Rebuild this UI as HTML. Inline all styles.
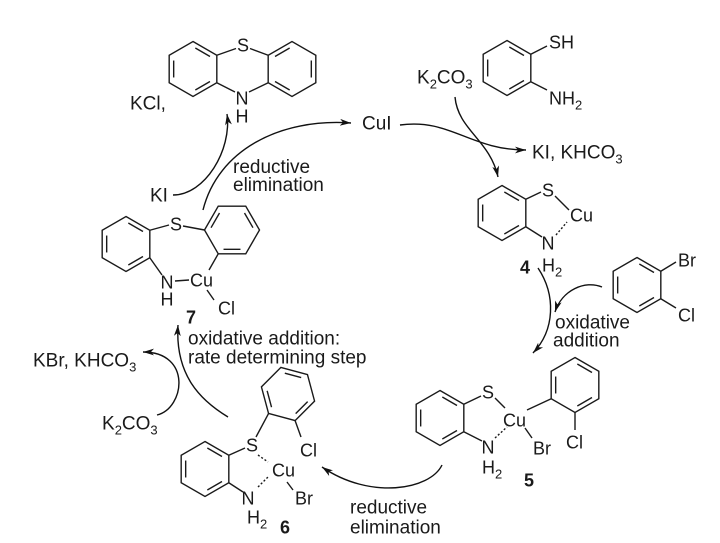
<!DOCTYPE html>
<html><head><meta charset="utf-8">
<style>
html,body{margin:0;padding:0;background:#fff;}
svg{display:block;}
text{font-family:"Liberation Sans",Arial,sans-serif;fill:#1a1a1a;}
.t{font-size:19px;}
.a{font-size:18px;}
.b{font-size:18px;font-weight:bold;}
</style></head>
<body>
<svg width="720" height="543" viewBox="0 0 720 543" xmlns="http://www.w3.org/2000/svg">
<defs>
<marker id="ah" markerWidth="12" markerHeight="8" refX="11" refY="4" orient="auto" markerUnits="userSpaceOnUse">
<path d="M0,0.6 L11,4 L0,7.4 L3,4 z" fill="#111"/>
</marker>
<g id="ring" fill="none" stroke="#1a1a1a" stroke-width="1.4">
<polygon points="0,-27.5 23.82,-13.75 23.82,13.75 0,27.5 -23.82,13.75 -23.82,-13.75"/>
<line x1="2.32" y1="-20.96" x2="17" y2="-12.49"/>
<line x1="17" y1="12.49" x2="2.32" y2="20.96"/>
<line x1="-19.32" y1="8.47" x2="-19.32" y2="-8.47"/>
</g>
</defs>

<!-- rings -->
<use href="#ring" transform="translate(193,69)"/>
<use href="#ring" transform="translate(292,69) rotate(60)"/>
<use href="#ring" transform="translate(507,68)"/>
<use href="#ring" transform="translate(502,213)"/>
<use href="#ring" transform="translate(637,285)"/>
<use href="#ring" transform="translate(440,418)"/>
<use href="#ring" transform="translate(575,385)"/>
<use href="#ring" transform="translate(205,469)"/>
<use href="#ring" transform="translate(288,394) rotate(-15)"/>
<use href="#ring" transform="translate(126,244)"/>
<use href="#ring" transform="translate(232,230) rotate(30)"/>

<!-- bonds -->
<g stroke="#1a1a1a" stroke-width="1.4" fill="none">
<!-- phenothiazine -->
<line x1="216.8" y1="55.25" x2="236" y2="48.5"/>
<line x1="250" y1="48.5" x2="268.2" y2="55.25"/>
<line x1="216.8" y1="82.75" x2="235" y2="92"/>
<line x1="249" y1="92" x2="268.2" y2="82.75"/>
<!-- aminothiophenol -->
<line x1="530.8" y1="54.25" x2="547" y2="46"/>
<line x1="530.8" y1="81.75" x2="547" y2="90"/>
<!-- 4 -->
<line x1="525.8" y1="199.25" x2="541" y2="192"/>
<line x1="555" y1="196" x2="569" y2="210"/>
<line x1="525.8" y1="226.75" x2="542" y2="237"/>
<line x1="556" y1="235" x2="567" y2="222" stroke-dasharray="2,2"/>
<!-- bromochlorobenzene -->
<line x1="660.8" y1="271.25" x2="676" y2="262"/>
<line x1="660.8" y1="298.75" x2="676" y2="308"/>
<!-- 5 -->
<line x1="463.8" y1="404.25" x2="481" y2="396"/>
<line x1="495" y1="398" x2="505" y2="408"/>
<line x1="527" y1="410" x2="551.2" y2="398.75"/>
<line x1="525" y1="428" x2="532" y2="438"/>
<line x1="463.8" y1="431.75" x2="482" y2="441"/>
<line x1="495" y1="438" x2="507" y2="427" stroke-dasharray="2,2"/>
<line x1="575" y1="412.5" x2="575" y2="430"/>
<!-- 6 -->
<line x1="228.8" y1="455.25" x2="245" y2="448"/>
<line x1="256" y1="437" x2="268.6" y2="413.4"/>
<line x1="295.1" y1="420.6" x2="301" y2="437"/>
<line x1="258" y1="455" x2="268" y2="462" stroke-dasharray="2,2"/>
<line x1="228.8" y1="482.75" x2="243" y2="492"/>
<line x1="258" y1="487" x2="268" y2="477" stroke-dasharray="2,2"/>
<line x1="287" y1="482" x2="293" y2="490"/>
<!-- 7 -->
<line x1="149.8" y1="230.25" x2="169" y2="225"/>
<line x1="183" y1="226" x2="204.5" y2="230"/>
<line x1="218.25" y1="253.8" x2="209" y2="270"/>
<line x1="149.8" y1="257.75" x2="162" y2="275"/>
<line x1="175" y1="281" x2="189" y2="280"/>
<line x1="207" y1="290" x2="214" y2="300"/>
</g>

<!-- arcs -->
<g stroke="#111" stroke-width="1.4" fill="none" marker-end="url(#ah)">
<path d="M203,210 C218,150 280,118 351,123"/>
<path d="M173,195 C205,195 232,150 227,114"/>
<path d="M400,125 C450,118 470,150 526,150"/>
<path d="M455,97 C458,130 490,140 498,177"/>
<path d="M538,268 C556,295 555,330 533,353"/>
<path d="M602,287 C585,280 562,290 555,312"/>
<path d="M442,465 C430,490 370,500 322,467"/>
<path d="M228,417 C200,400 175,375 178,325"/>
<path d="M157,415 C185,408 192,352 143,352"/>
</g>

<!-- atom labels -->
<g class="a" text-anchor="middle">
<text x="243" y="51.5">S</text>
<text x="242" y="104.5">N</text>
<text x="242" y="122.5">H</text>
<text x="548" y="196.5">S</text>
<text x="548" y="249.5">N</text>
<text x="488" y="398.5">S</text>
<text x="488" y="453.5">N</text>
<text x="252" y="451.5">S</text>
<text x="248" y="504.5">N</text>
<text x="176" y="230.5">S</text>
<text x="167" y="288.5">N</text>
<text x="167" y="305.5">H</text>
</g>
<g class="a">
<text x="549" y="48.5">SH</text>
<text x="549" y="104.5">NH<tspan font-size="13" dy="5">2</tspan></text>
<text x="570" y="221.5">Cu</text>
<text x="542" y="271.5">H<tspan font-size="13" dy="5">2</tspan></text>
<text x="678" y="266.5">Br</text>
<text x="678" y="321.5">Cl</text>
<text x="503" y="426.5">Cu</text>
<text x="533" y="454.5">Br</text>
<text x="482" y="473.5">H<tspan font-size="13" dy="5">2</tspan></text>
<text x="566" y="448.5">Cl</text>
<text x="272" y="476.5">Cu</text>
<text x="295" y="504.5">Br</text>
<text x="247" y="523.5">H<tspan font-size="13" dy="5">2</tspan></text>
<text x="300" y="456.5">Cl</text>
<text x="190" y="286.5">Cu</text>
<text x="218" y="314.5">Cl</text>
</g>
<g class="b" text-anchor="middle">
<text x="525" y="273.5">4</text>
<text x="529" y="486.5">5</text>
<text x="285" y="533.5">6</text>
<text x="191" y="323.5">7</text>
</g>

<!-- text labels -->
<g class="t">
<text x="130" y="109.5">KCl,</text>
<text x="150" y="201.5">KI</text>
<text x="233" y="173">reductive</text>
<text x="233" y="191">elimination</text>
<text x="362" y="129.5">CuI</text>
<text x="417" y="83.5">K<tspan font-size="13" dy="5">2</tspan><tspan dy="-5">CO</tspan><tspan font-size="13" dy="5">3</tspan></text>
<text x="532" y="158.5">KI, KHCO<tspan font-size="13" dy="5">3</tspan></text>
<text x="555" y="328.5">oxidative</text>
<text x="553" y="346.5">addition</text>
<text x="350" y="513.5">reductive</text>
<text x="350" y="533.5">elimination</text>
<text x="33" y="366.5">KBr, KHCO<tspan font-size="13" dy="5">3</tspan></text>
<text x="102" y="429.5">K<tspan font-size="13" dy="5">2</tspan><tspan dy="-5">CO</tspan><tspan font-size="13" dy="5">3</tspan></text>
<text x="188" y="344.5">oxidative addition:</text>
<text x="188" y="363.5">rate determining step</text>
</g>
</svg>
</body></html>
